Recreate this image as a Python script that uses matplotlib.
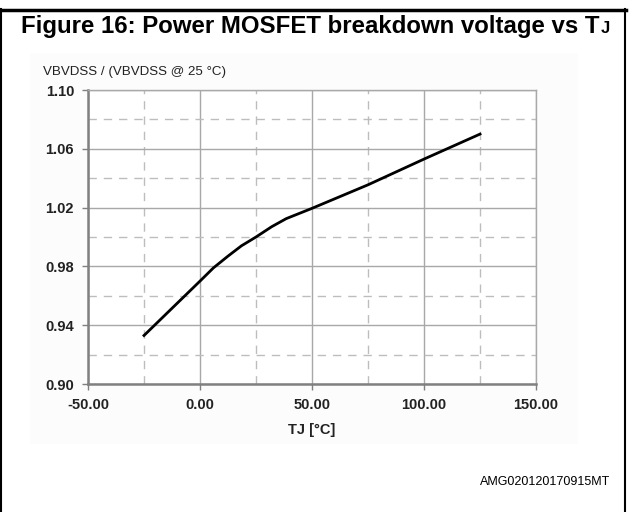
import matplotlib.pyplot as plt
from matplotlib.patches import Rectangle
from matplotlib.lines import Line2D

# Data
temps = [-25, 0, 6, 12.5, 18.5, 25, 32, 38.5, 50, 75, 100, 125]
ratio = [0.933, 0.970, 0.979, 0.987, 0.994, 1.000, 1.007, 1.0125, 1.0195, 1.0355, 1.053, 1.070]

major_y = [0.90, 0.94, 0.98, 1.02, 1.06, 1.10]
minor_y = [0.92, 0.96, 1.00, 1.04, 1.08]
major_x = [-50, 0, 50, 100, 150]
minor_x = [-25, 25, 75, 125]

plt.rcParams['font.family'] = ['Liberation Sans', 'DejaVu Sans']

fig = plt.figure(figsize=(6.29, 5.12), dpi=100)

# outer frame of the datasheet figure
fig.add_artist(Line2D([0.0015, 0.0015], [0, 0.982], transform=fig.transFigure, color='black', lw=1.5))
fig.add_artist(Line2D([0.994, 0.994], [0, 0.982], transform=fig.transFigure, color='black', lw=1.5))
fig.add_artist(Line2D([0, 0.995], [0.980, 0.980], transform=fig.transFigure, color='black', lw=2.5))

# faint chart background
fig.add_artist(Rectangle((30 / 629, 1 - 444 / 512), 548 / 629, 391 / 512,
                         transform=fig.transFigure, facecolor='#fcfcfc', edgecolor='none', zorder=0))

# title with small "J" after the T
title_y = 1 - 33 / 512
t1 = fig.text(0, title_y, "Figure 16: Power MOSFET breakdown voltage vs T",
              ha='left', va='baseline', fontsize=17.3, fontweight='bold')
t2 = fig.text(0, title_y, "J", ha='left', va='baseline', fontsize=12, fontweight='bold')
fig.canvas.draw()
r = fig.canvas.get_renderer()
w1 = t1.get_window_extent(r).width / fig.bbox.width
w2 = t2.get_window_extent(r).width / fig.bbox.width
x0 = 0.5 - (w1 + w2) / 2
t1.set_x(x0)
t2.set_x(x0 + w1 + 0.002)

ax = fig.add_axes([88 / 629, 1 - 384 / 512, 448 / 629, 294 / 512])
ax.set_facecolor('white')

ax.plot(temps, ratio, color='black', lw=2.0, zorder=3)

ax.set_xlim(-50, 150)
ax.set_ylim(0.90, 1.10)
ax.set_xticks(major_x)
ax.set_xticklabels([f"{v:.2f}" for v in major_x])
ax.set_yticks(major_y)
ax.set_yticklabels([f"{v:.2f}" for v in major_y])
ax.set_xticks(minor_x, minor=True)
ax.set_yticks(minor_y, minor=True)

ax.grid(True, which='major', color='#a8a8a8', lw=1.0, ls='-')
ax.grid(True, which='minor', color='#bdbdbd', lw=1.0, ls=(0, (6, 5)))
ax.set_axisbelow(True)

ax.tick_params(which='major', length=4, width=1, color='#808080', labelsize=10.5, pad=6)
ax.tick_params(which='minor', length=0)
for lab in ax.get_xticklabels() + ax.get_yticklabels():
    lab.set_fontweight('bold')
    lab.set_color('#222222')

for side in ['left', 'bottom']:
    ax.spines[side].set_color('#808080')
    ax.spines[side].set_linewidth(1.8)
for side in ['top', 'right']:
    ax.spines[side].set_color('#a8a8a8')
    ax.spines[side].set_linewidth(1.0)

ax.set_xlabel("TJ [°C]", fontsize=10.5, fontweight='bold', color='#222222', labelpad=8)
fig.text(43 / 629, 1 - 72 / 512, "VBVDSS / (VBVDSS @ 25 °C)", fontsize=9.6,
         color='#222222', ha='left', va='center')

fig.text(610 / 629, 1 - 482 / 512, "AMG020120170915MT", fontsize=9,
         ha='right', va='center', color='black')

plt.savefig("out.png", dpi=100)
